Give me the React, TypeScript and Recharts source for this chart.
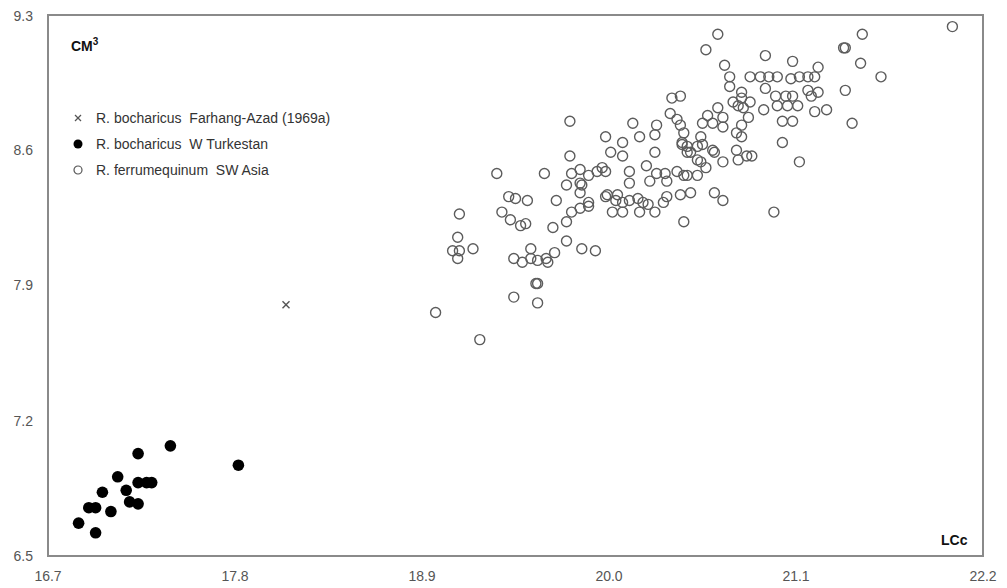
import React from 'react';
import { ScatterChart, Scatter, XAxis, YAxis, ReferenceArea, Legend } from 'recharts';

// axis ticks (LCc on x, CM3 on y)
const X_TICKS = [16.7, 17.8, 18.9, 20.0, 21.1, 22.2];
const Y_TICKS = [6.5, 7.2, 7.9, 8.6, 9.3];

// [LCc, CM3]
const FARHANG_AZAD = [[18.1, 7.8]];

const W_TURKESTAN = [
  [16.88, 6.67], [16.98, 6.62], [16.94, 6.75], [16.98, 6.75], [17.02, 6.83],
  [17.07, 6.73], [17.11, 6.91], [17.16, 6.84], [17.18, 6.78], [17.23, 6.77],
  [17.23, 6.88], [17.28, 6.88], [17.31, 6.88], [17.23, 7.03], [17.42, 7.07],
  [17.82, 6.97],
];

const SW_ASIA = [
  [22.02, 9.24], [21.49, 9.2], [21.38, 9.13], [21.39, 9.13], [21.48, 9.05],
  [21.6, 8.98], [21.39, 8.91], [21.43, 8.74], [20.64, 9.2], [20.57, 9.12],
  [20.92, 9.09], [21.08, 9.06], [21.23, 9.03], [20.68, 9.04], [20.71, 8.98],
  [20.71, 8.93], [20.83, 8.98], [20.89, 8.98], [20.94, 8.98], [20.99, 8.98],
  [21.07, 8.97], [21.12, 8.98], [21.17, 8.98], [21.21, 8.98], [20.92, 8.92],
  [20.98, 8.88], [21.04, 8.88], [21.08, 8.88], [21.17, 8.91], [21.23, 8.9],
  [21.19, 8.88], [20.78, 8.9], [20.78, 8.87], [20.83, 8.85], [20.79, 8.82],
  [20.76, 8.83], [20.82, 8.77], [20.78, 8.73], [20.78, 8.67], [20.75, 8.69],
  [20.99, 8.83], [21.05, 8.83], [21.11, 8.83], [20.91, 8.81], [21.21, 8.8],
  [21.28, 8.81], [21.02, 8.75], [21.08, 8.75], [21.02, 8.64], [20.84, 8.57],
  [21.12, 8.54], [20.97, 8.28], [20.75, 8.6], [20.76, 8.55], [20.81, 8.57],
  [20.64, 8.82], [20.67, 8.77], [20.67, 8.72], [20.61, 8.74], [20.55, 8.74],
  [20.54, 8.67], [20.55, 8.63], [20.52, 8.62], [20.46, 8.62], [20.43, 8.64],
  [20.73, 8.85], [20.58, 8.78], [20.61, 8.6], [20.62, 8.59], [20.54, 8.54],
  [20.57, 8.51], [20.52, 8.47], [20.67, 8.54], [20.42, 8.88], [20.37, 8.87],
  [20.36, 8.79], [20.4, 8.76], [20.42, 8.73], [20.44, 8.69], [20.46, 8.59],
  [20.52, 8.55], [20.48, 8.59], [20.43, 8.63], [20.48, 8.38], [20.62, 8.38],
  [20.67, 8.34], [20.44, 8.23], [20.42, 8.37], [20.46, 8.47], [20.14, 8.74],
  [20.28, 8.73], [20.27, 8.68], [20.18, 8.67], [19.98, 8.67], [20.08, 8.64],
  [20.01, 8.59], [20.08, 8.57], [20.27, 8.59], [20.22, 8.52], [20.28, 8.48],
  [20.33, 8.48], [20.4, 8.49], [20.44, 8.47], [20.24, 8.44], [20.34, 8.44],
  [20.12, 8.49], [20.12, 8.43], [19.83, 8.5], [19.88, 8.47], [19.93, 8.49],
  [19.96, 8.51], [19.78, 8.48], [19.98, 8.49], [19.84, 8.42], [19.98, 8.36],
  [19.99, 8.37], [20.04, 8.34], [20.08, 8.33], [20.12, 8.34], [20.17, 8.35],
  [20.2, 8.33], [20.18, 8.28], [20.08, 8.28], [20.02, 8.28], [20.27, 8.28],
  [20.23, 8.32], [20.34, 8.36], [20.32, 8.33], [20.05, 8.37], [19.77, 8.75],
  [19.77, 8.57], [19.34, 8.48], [19.62, 8.48], [19.75, 8.42], [19.83, 8.43],
  [19.83, 8.38], [19.41, 8.36], [19.45, 8.35], [19.52, 8.34], [19.69, 8.34],
  [19.88, 8.33], [19.88, 8.31], [19.83, 8.3], [19.78, 8.28], [19.75, 8.23],
  [19.67, 8.2], [19.12, 8.27], [19.37, 8.28], [19.42, 8.24], [19.48, 8.21],
  [19.51, 8.22], [19.11, 8.15], [19.08, 8.08], [19.12, 8.08], [19.2, 8.09],
  [19.11, 8.04], [19.54, 8.09], [19.44, 8.04], [19.49, 8.02], [19.54, 8.04],
  [19.58, 8.03], [19.63, 8.04], [19.64, 8.02], [19.68, 8.07], [19.75, 8.13],
  [19.84, 8.09], [19.92, 8.08], [19.57, 7.91], [19.58, 7.91], [19.44, 7.84],
  [19.58, 7.81], [18.98, 7.76], [19.24, 7.62],
];

const LEGEND_ITEMS = [
  { label: 'R. bocharicus\u00a0\u00a0Farhang-Azad (1969a)', kind: 'cross' },
  { label: 'R. bocharicus\u00a0\u00a0W Turkestan', kind: 'filled' },
  { label: 'R. ferrumequinum\u00a0\u00a0SW Asia', kind: 'open' },
];

const toPts = (rows: number[][]) => rows.map(([x, y]) => ({ x, y }));

const FONT = '"Liberation Sans", Arial, sans-serif';
const AXIS_GREY = '#8a8a8a';

const OpenCircle = (p: any) => (
  <circle cx={p.cx} cy={p.cy} r={5} fill="none" stroke="#5c5c5c" strokeWidth={1.4} />
);
const FilledCircle = (p: any) => <circle cx={p.cx} cy={p.cy} r={5.8} fill="#000" />;
const Cross = (p: any) => (
  <g stroke="#555" strokeWidth={1.4}>
    <line x1={p.cx - 3.5} y1={p.cy - 3.5} x2={p.cx + 3.5} y2={p.cy + 3.5} />
    <line x1={p.cx - 3.5} y1={p.cy + 3.5} x2={p.cx + 3.5} y2={p.cy - 3.5} />
  </g>
);

const LegendIcon = ({ kind }: { kind: string }) => (
  <svg width={12} height={12} style={{ marginRight: 12, flexShrink: 0 }}>
    {kind === 'cross' && (
      <g stroke="#555" strokeWidth={1.2}>
        <line x1={3} y1={3} x2={9} y2={9} />
        <line x1={3} y1={9} x2={9} y2={3} />
      </g>
    )}
    {kind === 'filled' && <circle cx={6} cy={6} r={4.5} fill="#000" />}
    {kind === 'open' && <circle cx={6} cy={6} r={4} fill="none" stroke="#555" strokeWidth={1.2} />}
  </svg>
);

const LegendBox = () => (
  <div style={{ fontFamily: FONT, fontSize: 14, color: '#333' }}>
    {LEGEND_ITEMS.map((it) => (
      <div key={it.kind} style={{ display: 'flex', alignItems: 'center', height: 26 }}>
        <LegendIcon kind={it.kind} />
        <span>{it.label}</span>
      </div>
    ))}
  </div>
);

const tickStyle = { fill: '#555', fontSize: 14, fontFamily: FONT };

export default function App() {
  return (
    <div style={{ position: 'relative', width: 991, height: 580 }}>
      <ScatterChart width={991} height={580} margin={{ top: 7, right: 16, left: 0, bottom: 2 }}>
        <XAxis
          type="number"
          dataKey="x"
          domain={[16.7, 22.2]}
          ticks={X_TICKS}
          allowDataOverflow
          tickFormatter={(v: number) => v.toFixed(1)}
          axisLine={{ stroke: AXIS_GREY, strokeWidth: 2 }}
          tickLine={false}
          tickMargin={9}
          height={30}
          tick={tickStyle}
        />
        <YAxis
          type="number"
          dataKey="y"
          domain={[6.5, 9.3]}
          ticks={Y_TICKS}
          allowDataOverflow
          tickFormatter={(v: number) => v.toFixed(1)}
          axisLine={{ stroke: AXIS_GREY, strokeWidth: 2 }}
          tickLine={false}
          tickMargin={9}
          width={40}
          tick={tickStyle}
        />
        <ReferenceArea x1={16.7} x2={22.2} y1={6.5} y2={9.3} fill="none" stroke={AXIS_GREY} strokeWidth={2} ifOverflow="visible" />
        <Legend
          layout="horizontal"
          verticalAlign="middle"
          align="center"
          content={() => <LegendBox />}
          wrapperStyle={{ top: 97, left: 64, width: 340 }}
        />
        <Scatter name="Farhang-Azad" data={toPts(FARHANG_AZAD)} shape={Cross} isAnimationActive={false} />
        <Scatter name="W Turkestan" data={toPts(W_TURKESTAN)} shape={FilledCircle} isAnimationActive={false} />
        <Scatter name="SW Asia" data={toPts(SW_ASIA)} shape={OpenCircle} isAnimationActive={false} />
      </ScatterChart>
      <div style={{ position: 'absolute', left: 63, top: 28, fontFamily: FONT, fontSize: 14, fontWeight: 'bold', color: '#111' }}>
        CM<sup style={{ fontSize: 10 }}>3</sup>
      </div>
      <div style={{ position: 'absolute', left: 933, top: 524, fontFamily: FONT, fontSize: 14, fontWeight: 'bold', color: '#111' }}>
        LCc
      </div>
    </div>
  );
}
